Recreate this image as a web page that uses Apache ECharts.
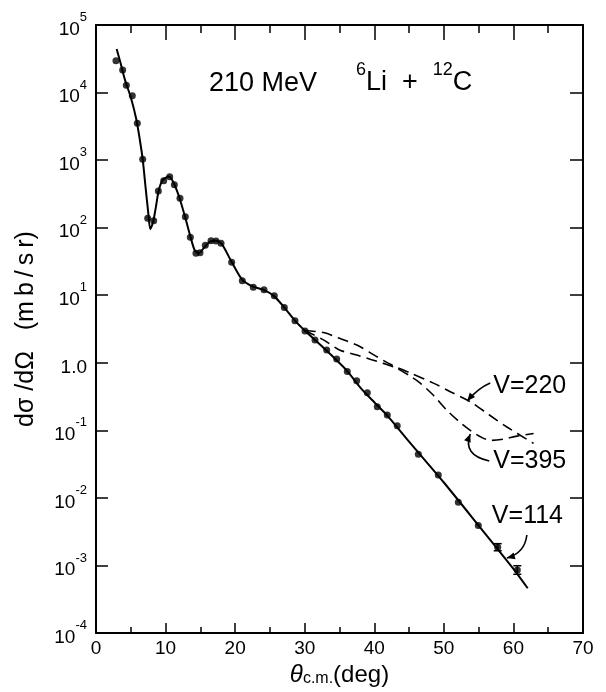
<!DOCTYPE html>
<html><head><meta charset="utf-8">
<script src="https://cdn.jsdelivr.net/npm/echarts@6/dist/echarts.min.js"></script>
<style>html,body{margin:0;padding:0;background:#fff}#c{width:606px;height:692px}</style>
</head><body><div id="c"></div><script>
// measured data points (theta c.m. in deg, dsigma/dOmega in mb/sr)
const thetaData = [2.87,3.83,4.36,5.22,5.94,6.71,7.43,8.29,8.96,9.73,10.59,11.26,12.07,12.84,13.56,14.37,14.95,15.71,16.53,17.25,17.97,19.5,21.03,22.61,24.15,25.63,27.07,28.6,30.04,31.48,33.16,34.6,36.12,37.47,39.0,40.43,41.87,43.3,46.33,49.2,52.08,54.95,57.74,60.56];
const sigmaData = [2.96e4,2.16e4,1.28e4,9.0e3,3.5e3,1.03e3,138,127,349,495,569,432,272,145,72,41.8,42.6,55,64,63.5,58.8,30.7,16.4,13.1,12.0,9.85,6.6,4.2,2.96,2.18,1.55,1.14,0.74,0.54,0.36,0.224,0.169,0.117,0.0443,0.0218,0.0086,0.0039,0.00186,0.000857];
// error bars (theta, low, high)
const errTheta = [57.74, 60.56];
const errLow = [0.00165, 0.00074];
const errHigh = [0.0021, 0.00099];
// V=114 fit (solid)
const fitTheta = [2.97,3.5,4.2,5.0,5.8,6.3,6.71,7.1,7.5,7.8,8.2,8.6,9.0,9.6,10.5,11.2,12.0,12.8,13.6,14.2,14.8,15.5,16.4,17.3,18.1,19.5,21.0,22.5,24.1,25.6,27.0,28.6,30.0,32.0,34.0,36.0,38.0,40.0,42.0,45.0,50.0,55.0,60.0,62.05];
const fitSigma = [4.4e4,2.8e4,1.5e4,8.5e3,4.0e3,2.0e3,1030,420,170,95,120,200,350,510,570,450,275,145,72,46,42,50,62,64,57,31,17,13.5,12,9.7,6.7,4.2,3.0,1.95,1.25,0.78,0.43,0.26,0.16,0.068,0.0169,0.0039,0.00089,0.00046];
// V=220 (dashed)
const v220Theta = [30.0,32.7,35.0,37.5,40.0,42.3,45.0,48.5,51.0,53.8,56.5,59.0,62.9];
const v220Sigma = [3.0,2.8,2.3,1.83,1.3,0.95,0.72,0.50,0.37,0.265,0.17,0.113,0.064];
// V=395 (dashed)
const v395Theta = [30.0,32.7,35.0,37.5,39.5,41.3,43.0,45.0,46.6,48.5,50.4,52.0,53.8,55.5,56.8,58.5,60.5,62.9];
const v395Sigma = [3.0,2.18,1.55,1.30,1.12,0.98,0.85,0.65,0.50,0.33,0.20,0.14,0.10,0.078,0.071,0.074,0.082,0.090];
// axis ticks
const xTicks = [0,10,20,30,40,50,60,70];
const yExponents = [-4,-3,-2,-1,0,1,2,3,4,5];

const FONT = 'Liberation Sans';
const zip = (a, b) => a.map((v, i) => [v, b[i]]);
const chart = echarts.init(document.getElementById('c'), null, {renderer: 'canvas'});

function yLabel(v) {
  const e = Math.round(Math.log10(v));
  if (!yExponents.includes(e)) return '';
  if (e === 0) return '{b|1.0}';
  return '{b|10}{s|' + (e < 0 ? '-' + (-e) : e) + '}';
}
const richLab = {
  b: {fontSize: 19, fontFamily: FONT, color: '#000', lineHeight: 28, verticalAlign: 'bottom'},
  s: {fontSize: 13, fontFamily: FONT, color: '#000', lineHeight: 13, verticalAlign: 'top'}
};
const axLine = {show: true, onZero: false, lineStyle: {color: '#000', width: 2}};

chart.setOption({
  animation: false,
  backgroundColor: '#fff',
  grid: {left: 96, right: 23, top: 25, bottom: 59, outerBoundsMode: 'none', containLabel: false},
  xAxis: [{
    type: 'value', min: 0, max: 70, interval: 10, position: 'bottom',
    axisLine: axLine,
    axisTick: {inside: true, length: 10, lineStyle: {color: '#000', width: 1.5}},
    minorTick: {show: true, splitNumber: 2, length: 6, lineStyle: {color: '#000', width: 1.5}},
    splitLine: {show: false},
    axisLabel: {fontSize: 19, fontFamily: FONT, color: '#000', margin: 6,
      formatter: v => xTicks.includes(v) ? String(v) : ''},
    name: '{t|θ}{c|c.m.}{n|(deg)}', nameLocation: 'middle', nameGap: 24,
    nameTextStyle: {rich: {
      t: {fontSize: 24, fontStyle: 'italic', fontFamily: FONT, color: '#000', verticalAlign: 'bottom', lineHeight: 28},
      c: {fontSize: 16, fontFamily: FONT, color: '#000', verticalAlign: 'bottom', lineHeight: 22},
      n: {fontSize: 24, fontFamily: FONT, color: '#000', verticalAlign: 'bottom', lineHeight: 28}
    }}
  }, {
    type: 'value', min: 0, max: 70, interval: 10, position: 'top',
    axisLine: axLine,
    axisTick: {inside: true, length: 15, lineStyle: {color: '#000', width: 1.5}},
    minorTick: {show: true, splitNumber: 2, length: 8, lineStyle: {color: '#000', width: 1.5}},
    splitLine: {show: false}, axisLabel: {show: false}
  }],
  yAxis: [{
    type: 'log', logBase: 10, min: 1e-4, max: 1e5, interval: 1, splitNumber: 9, position: 'left',
    axisLine: axLine,
    axisTick: {inside: true, length: 12, lineStyle: {color: '#000', width: 1.5}},
    minorTick: {show: false}, splitLine: {show: false},
    axisLabel: {margin: 9, formatter: yLabel, rich: richLab},
    name: 'dσ /dΩ   (m\u2009b\u2009/\u2009s\u2009r)', nameLocation: 'middle', nameGap: 57, nameRotate: 90,
    nameTextStyle: {fontSize: 25, fontFamily: FONT, color: '#000'}
  }, {
    type: 'log', logBase: 10, min: 1e-4, max: 1e5, interval: 1, splitNumber: 9, position: 'right',
    axisLine: axLine,
    axisTick: {inside: true, length: 13, lineStyle: {color: '#000', width: 1.5}},
    minorTick: {show: false}, splitLine: {show: false}, axisLabel: {show: false}
  }],
  series: [{
    type: 'line', name: 'V=114', data: zip(fitTheta, fitSigma), showSymbol: false, smooth: 0.25,
    lineStyle: {color: '#000', width: 2}, z: 3
  }, {
    type: 'line', name: 'V=220', data: zip(v220Theta, v220Sigma), showSymbol: false, smooth: 0.3,
    lineStyle: {color: '#000', width: 1.6, type: [11, 6]}, z: 3
  }, {
    type: 'line', name: 'V=395', data: zip(v395Theta, v395Sigma), showSymbol: false, smooth: 0.3,
    lineStyle: {color: '#000', width: 1.6, type: [11, 6]}, z: 3
  }, {
    type: 'scatter', name: 'data', data: zip(thetaData, sigmaData), symbolSize: 7,
    itemStyle: {color: '#000'}, z: 4
  }, {
    type: 'custom', name: 'err', data: errTheta.map((t, i) => [t, errLow[i], errHigh[i]]), z: 4,
    renderItem: (params, api) => {
      const lo = api.coord([api.value(0), api.value(1)]);
      const hi = api.coord([api.value(0), api.value(2)]);
      const st = {stroke: '#000', lineWidth: 1.5};
      return {type: 'group', children: [
        {type: 'line', shape: {x1: lo[0], y1: lo[1], x2: hi[0], y2: hi[1]}, style: st},
        {type: 'line', shape: {x1: lo[0] - 4, y1: lo[1], x2: lo[0] + 4, y2: lo[1]}, style: st},
        {type: 'line', shape: {x1: hi[0] - 4, y1: hi[1], x2: hi[0] + 4, y2: hi[1]}, style: st}
      ]};
    }
  }]
});

// annotations: label anchors in data coordinates, arrow geometry as offsets (px) from the anchor
const annots = [
  {text: 'V=220', at: [57.1, 0.454], arrow: [[-3, -3], [-15, 2], [-26, 15]]},
  {text: 'V=395', at: [57.1, 0.0352], arrow: [[-4, 0], [-31, -6], [-23, -27]]},
  {text: 'V=114', at: [56.9, 0.0054], arrow: [[35, 19], [33, 37], [15, 42]]}
];
const g = [];
annots.forEach(a => {
  const p = chart.convertToPixel({xAxisIndex: 0, yAxisIndex: 0}, a.at);
  g.push({type: 'text', x: p[0], y: p[1], style: {text: a.text, fontSize: 25, fontFamily: FONT, fill: '#000', align: 'left', verticalAlign: 'middle'}, z: 10});
  const [s, c, e] = a.arrow.map(o => [p[0] + o[0], p[1] + o[1]]);
  g.push({type: 'bezierCurve', shape: {x1: s[0], y1: s[1], x2: e[0], y2: e[1], cpx1: c[0], cpy1: c[1]}, style: {stroke: '#000', lineWidth: 1.6, fill: null}, z: 10});
  const dx = e[0] - c[0], dy = e[1] - c[1], L = Math.hypot(dx, dy);
  const ux = dx / L, uy = dy / L, len = 8, w = 3.5;
  g.push({type: 'polygon', shape: {points: [[e[0], e[1]], [e[0] - ux * len - uy * w, e[1] - uy * len + ux * w], [e[0] - ux * len + uy * w, e[1] - uy * len - ux * w]]}, style: {fill: '#000'}, z: 10});
});
g.push({type: 'text', left: 209, top: 70, style: {text: '210 MeV', fontSize: 27, fontFamily: FONT, fill: '#000'}, z: 10});
g.push({type: 'text', left: 356, top: 61, style: {
  text: '{s|6}{b|Li  +  }{s|12}{b|C}',
  rich: {
    b: {fontSize: 27, fontFamily: FONT, fill: '#000', lineHeight: 35, verticalAlign: 'bottom'},
    s: {fontSize: 18, fontFamily: FONT, fill: '#000', lineHeight: 17, verticalAlign: 'top'}
  }}, z: 10});
chart.setOption({graphic: g});
</script></body></html>
